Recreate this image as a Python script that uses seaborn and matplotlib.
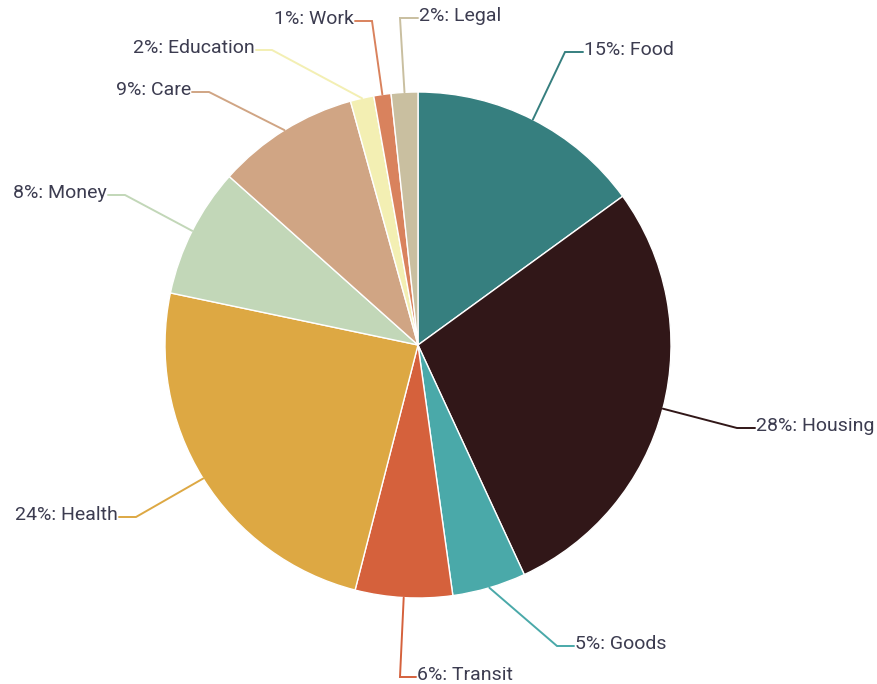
import numpy as np
import matplotlib
matplotlib.use("Agg")
import matplotlib.pyplot as plt
import seaborn as sns

# slice data (clockwise from 12 o'clock)
categories = ["Food", "Housing", "Goods", "Transit", "Health",
              "Money", "Care", "Education", "Work", "Legal"]
shares = [15.0, 28.1, 4.7, 6.2, 24.3, 8.3, 9.1, 1.5, 1.1, 1.7]
pct_labels = ["15%", "28%", "5%", "6%", "24%", "8%", "9%", "2%", "1%", "2%"]
colors = ["#367f7f", "#311718", "#4aa9a9", "#d5613c", "#dda843",
          "#c2d7b8", "#d0a584", "#f3efb3", "#d9825d", "#c9bfa0"]

# layout: leader elbow / end points in pixels, text side
W, H = 877, 684
CX, CY, R = 418, 345, 253
elbows = [(565, 52), (737, 428), (557, 646), (400, 677), (136, 517),
          (125, 195), (209, 92), (272, 50), (372, 21), (400, 18)]
ends = [(583, 52), (755, 428), (574, 646), (416, 677), (119, 517),
        (108, 195), (192, 92), (256, 50), (355, 21), (418, 18)]
TEXT_COLOR = "#3c3c50"


def px(p):
    return ((p[0] - CX) / R, (CY - p[1]) / R)


sns.set_theme(style="white")
plt.rcParams["font.family"] = ["Roboto", "DejaVu Sans"]

fig = plt.figure(figsize=(W / 100, H / 100), dpi=100)
ax = fig.add_axes([0, 0, 1, 1])
wedges, _ = ax.pie(shares, colors=sns.color_palette(colors), startangle=90,
                   counterclock=False, radius=1.0,
                   wedgeprops=dict(edgecolor="white", linewidth=1.0))

for i, w in enumerate(wedges):
    mid = np.deg2rad((w.theta1 + w.theta2) / 2)
    sx, sy = np.cos(mid), np.sin(mid)
    ex, ey = px(elbows[i])
    hx, hy = px(ends[i])
    ax.plot([sx, ex, hx], [sy, ey, hy], color=colors[i], lw=1.4,
            solid_joinstyle="miter", zorder=3)
    left = hx > ex
    ax.text(hx + (0.004 if left else -0.004), hy - 3 / R,
            f"{pct_labels[i]}: {categories[i]}",
            ha="left" if left else "right", va="baseline",
            fontsize=14, color=TEXT_COLOR)

ax.set_xlim(-CX / R, (W - CX) / R)
ax.set_ylim((CY - H) / R, CY / R)
ax.set_aspect("equal")
ax.axis("off")
fig.savefig("out.png", dpi=100)
